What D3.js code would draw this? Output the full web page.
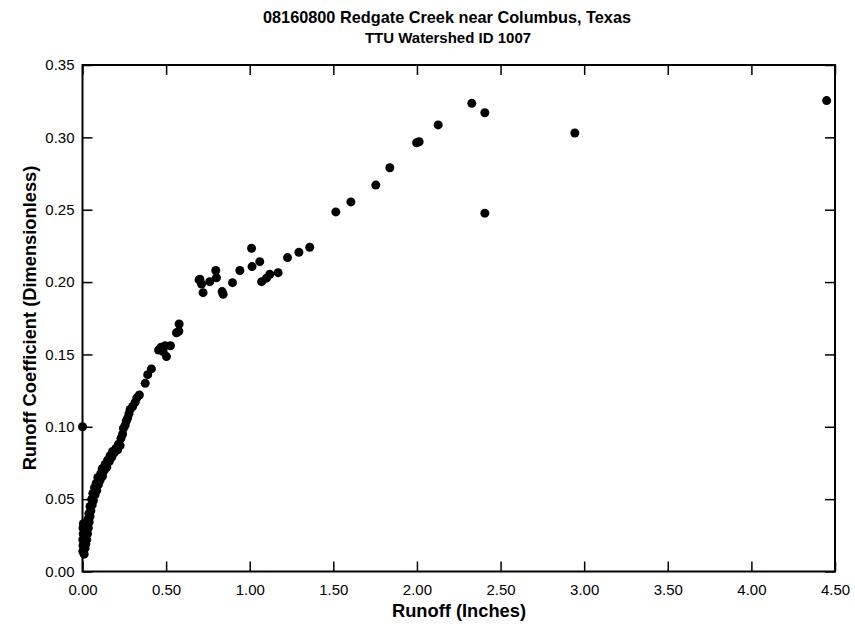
<!DOCTYPE html>
<html><head><meta charset="utf-8">
<script src="https://cdn.jsdelivr.net/npm/d3@7"></script>
<style>
html,body{margin:0;padding:0;background:#fff;}
text{font-family:"Liberation Sans",Arial,sans-serif;}
</style></head>
<body><svg id="chart" width="855" height="628"></svg>
<script>
const titleText = "08160800 Redgate Creek near Columbus, Texas";
const subtitleText = "TTU Watershed ID 1007";
const xAxisTitle = "Runoff (Inches)";
const yAxisTitle = "Runoff Coefficient (Dimensionless)";
const xTicks = [0,0.5,1,1.5,2,2.5,3,3.5,4,4.5];
const yTicks = [0,0.05,0.10,0.15,0.20,0.25,0.30,0.35];

// Runoff (inches)
const runoff = [
 0.000,
 0.002,0.003,0.002,0.004,0.003,0.005,
 0.010,0.015,0.012,0.020,0.018,0.025,0.022,0.030,0.028,0.035,0.040,0.032,0.045,0.038,
 0.050,0.045,0.058,0.055,0.065,0.062,0.075,0.072,0.085,0.082,0.095,0.092,0.105,0.110,
 0.120,0.118,0.130,0.135,0.145,0.150,0.160,0.165,0.175,0.180,0.190,0.200,0.210,0.215,
 0.225,0.230,0.240,0.245,0.255,0.262,0.270,0.278,0.285,0.300,0.315,0.325,0.340,0.375,
 0.390,0.412,0.455,0.470,0.482,0.494,0.502,0.526,0.562,0.576,0.578,
 0.697,0.702,0.712,0.721,0.761,0.797,0.801,0.835,0.841,0.897,0.941,1.011,1.014,1.060,
 1.071,1.100,1.120,1.170,1.226,1.294,1.359,
 1.515,1.605,1.754,1.838,1.998,2.013,2.127,2.328,2.406,2.406,2.944,4.450
];
// Runoff coefficient (dimensionless)
const coef = [
 0.100,
 0.014,0.018,0.022,0.026,0.030,0.033,
 0.012,0.016,0.020,0.019,0.024,0.022,0.028,0.026,0.032,0.030,0.034,0.036,0.038,0.040,
 0.042,0.045,0.046,0.050,0.049,0.054,0.053,0.058,0.056,0.061,0.060,0.065,0.063,0.068,
 0.066,0.071,0.070,0.074,0.072,0.077,0.076,0.080,0.079,0.083,0.082,0.085,0.084,0.088,
 0.087,0.092,0.095,0.099,0.101,0.104,0.106,0.109,0.112,0.114,0.117,0.120,0.122,0.130,
 0.136,0.140,0.153,0.155,0.152,0.156,0.1485,0.156,0.165,0.166,0.171,
 0.2015,0.202,0.1987,0.1927,0.2003,0.208,0.203,0.1934,0.1916,0.1996,0.208,0.2234,0.2107,0.2141,
 0.2003,0.2027,0.2054,0.2065,0.2169,0.2206,0.2241,
 0.2485,0.2554,0.267,0.279,0.2963,0.297,0.3086,0.3235,0.317,0.2476,0.303,0.3254
];

const svg = d3.select("#chart");
const mLeft = 82.5, mRight = 835, mTop = 65, mBottom = 571.5;
const x = d3.scaleLinear().domain([0,4.5]).range([mLeft,mRight]);
const y = d3.scaleLinear().domain([0,0.35]).range([mBottom,mTop]);
const fmt = d3.format(".2f");

// title
svg.append("text").attr("x",447).attr("y",23).attr("text-anchor","middle")
  .attr("font-size",16.3).attr("font-weight","bold").text(titleText);
svg.append("text").attr("x",448).attr("y",42.5).attr("text-anchor","middle")
  .attr("font-size",15).attr("font-weight","bold").text(subtitleText);

// axes
const gx = svg.append("g").attr("transform",`translate(0,${mBottom})`)
  .call(d3.axisBottom(x).tickValues(xTicks).tickFormat(fmt).tickSizeInner(-10).tickSizeOuter(0).tickPadding(13));
const gxt = svg.append("g").attr("transform",`translate(0,${mTop})`)
  .call(d3.axisTop(x).tickValues(xTicks).tickFormat("").tickSizeInner(-10).tickSizeOuter(0));
const gy = svg.append("g").attr("transform",`translate(${mLeft},0)`)
  .call(d3.axisLeft(y).tickValues(yTicks).tickFormat(fmt).tickSizeInner(-10).tickSizeOuter(0).tickPadding(8));
const gyr = svg.append("g").attr("transform",`translate(${mRight},0)`)
  .call(d3.axisRight(y).tickValues(yTicks).tickFormat("").tickSizeInner(-10).tickSizeOuter(0));
[gx,gxt,gy,gyr].forEach(g=>{
  g.selectAll(".domain").remove();
  g.selectAll(".tick line").attr("stroke","#000").attr("stroke-width",1.5);
  g.selectAll(".tick text").attr("font-size",15).attr("fill","#000")
    .attr("font-family","'Liberation Sans',Arial,sans-serif");
});
svg.append("rect").attr("x",mLeft).attr("y",mTop).attr("width",mRight-mLeft).attr("height",mBottom-mTop)
  .attr("fill","none").attr("stroke","#000").attr("stroke-width",2);

// axis titles
svg.append("text").attr("x",459).attr("y",617).attr("text-anchor","middle")
  .attr("font-size",18.3).attr("font-weight","bold").text(xAxisTitle);
svg.append("text").attr("transform",`translate(36,318) rotate(-90)`).attr("text-anchor","middle")
  .attr("font-size",18.3).attr("font-weight","bold").text(yAxisTitle);

// points
const pts = runoff.map((r,i)=>({r, c:coef[i]}));
svg.append("g").selectAll("circle").data(pts).join("circle")
  .attr("cx",d=>x(d.r)).attr("cy",d=>y(d.c)).attr("r",4.5).attr("fill","#000");
</script></body></html>
